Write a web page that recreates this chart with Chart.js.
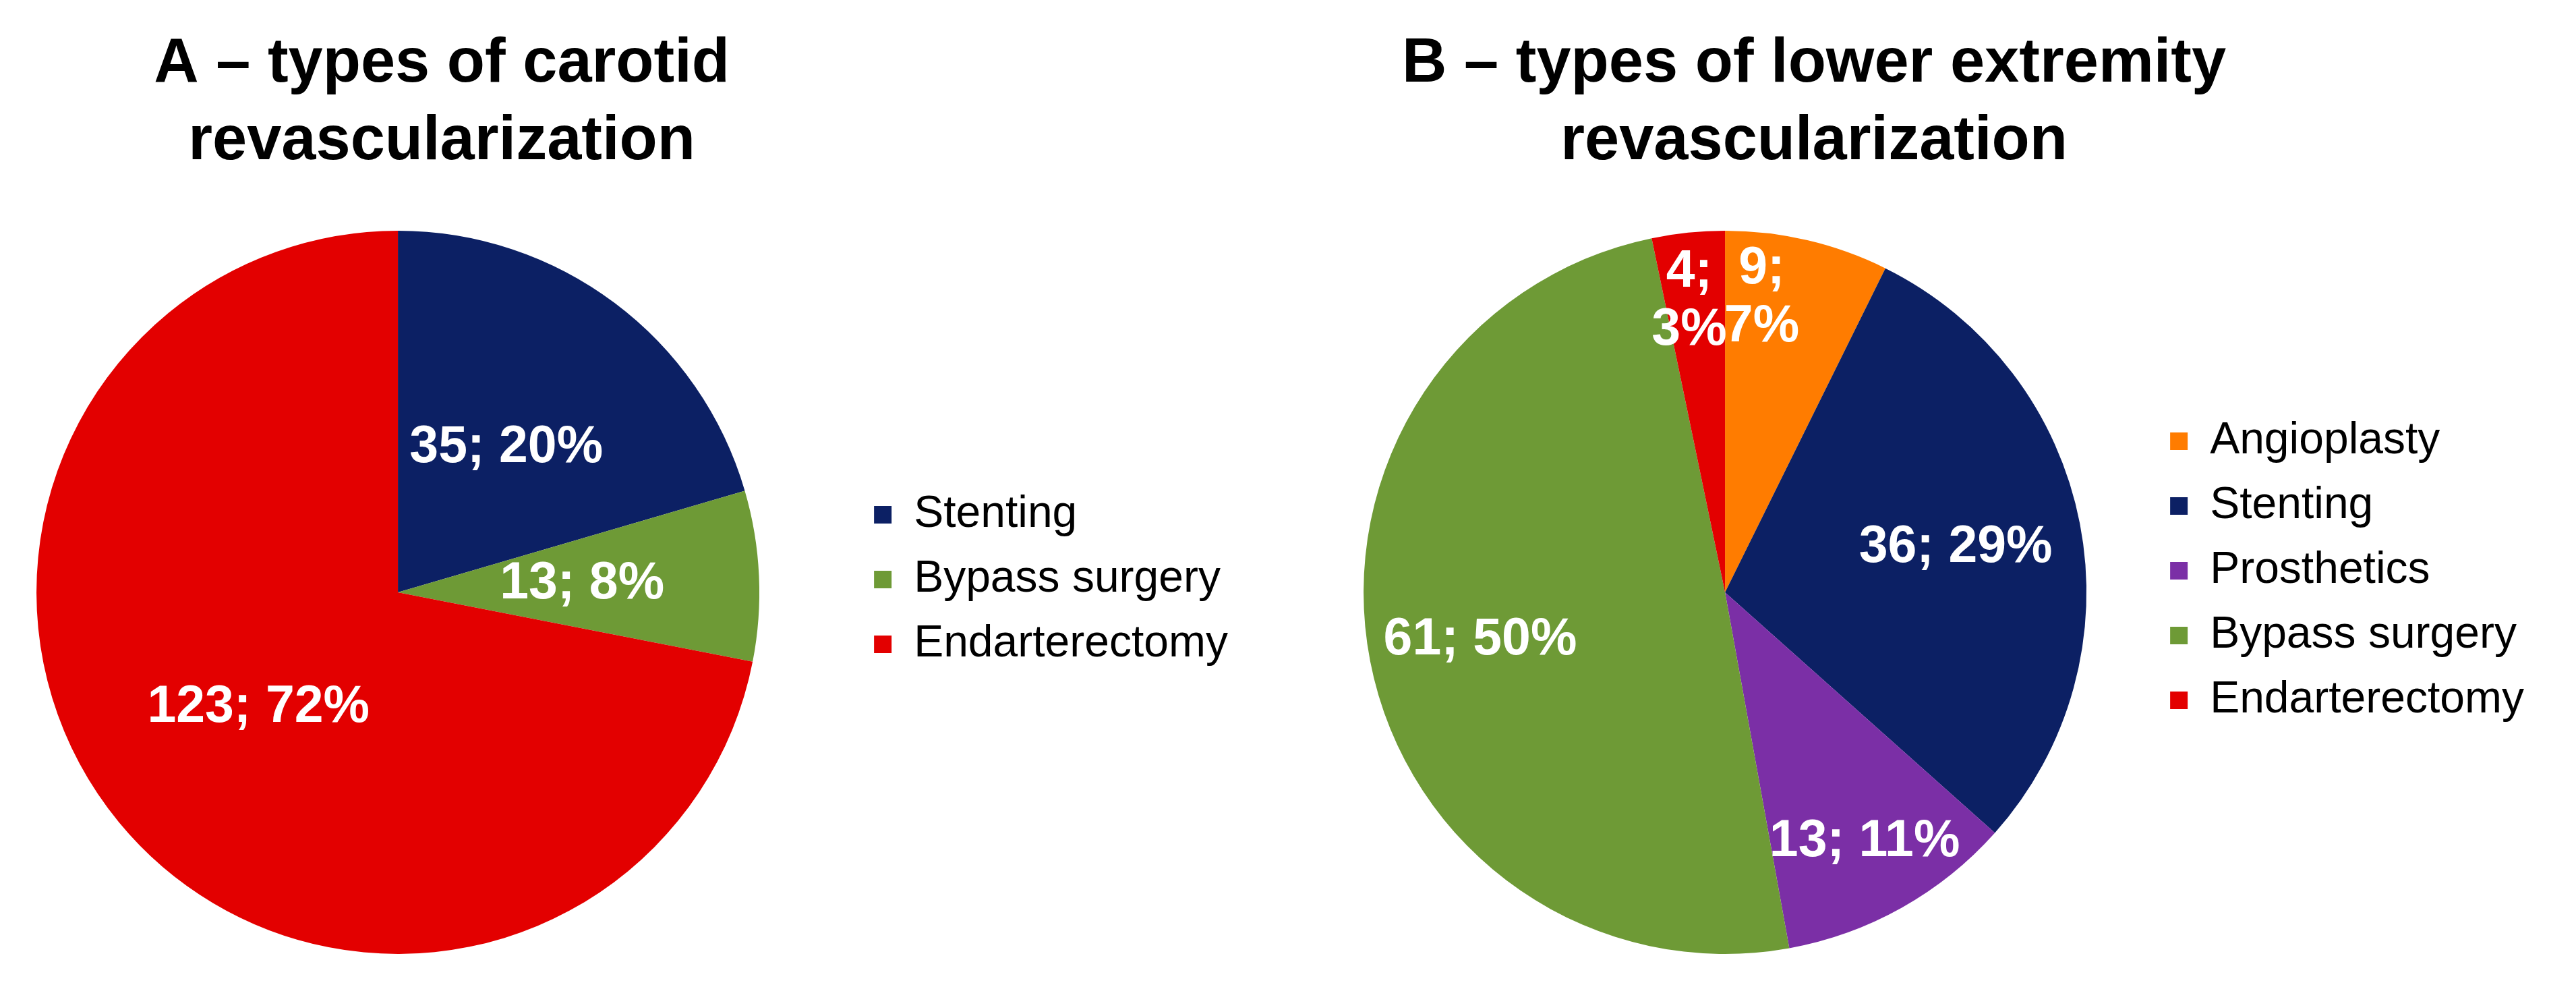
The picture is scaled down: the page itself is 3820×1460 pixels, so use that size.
<!DOCTYPE html>
<html>
<head>
<meta charset="utf-8">
<title>Types of revascularization</title>
<script src="https://cdn.jsdelivr.net/npm/chart.js@4.4.1/dist/chart.umd.min.js"></script>
<style>
  html, body { margin: 0; padding: 0; background: #fff; overflow: hidden; }
  #page { position: relative; width: 3820px; height: 1460px; overflow: hidden; background: #fff; }
  .box { position: absolute; top: 0; height: 1460px; }
  #boxA { left: -86px; width: 2004px; }
  #boxB { left: 1928px; width: 1892px; }
</style>
</head>
<body>
<div id="page">
  <div class="box" id="boxA"><canvas id="carotid"></canvas></div>
  <div class="box" id="boxB"><canvas id="lower"></canvas></div>
</div>
<script>
// data
var carotidTitle = ['A \u2013 types of carotid', 'revascularization'];
var carotidLabels = ['Stenting', 'Bypass surgery', 'Endarterectomy'];
var carotidCounts = [35, 13, 123];

var lowerTitle = ['B \u2013 types of lower extremity', 'revascularization'];
var lowerLabels = ['Angioplasty', 'Stenting', 'Prosthetics', 'Bypass surgery', 'Endarterectomy'];
var lowerCounts = [9, 36, 13, 61, 4];

var navy = '#0C2064';
var green = '#6E9A36';
var red = '#E30000';
var orange = '#FF7C00';
var purple = '#7B2FA6';
var fontFamily = '"Liberation Sans", Arial, Helvetica, sans-serif';

// two line bold heading, centred a bit right of the pie like in the excel sheet
var heading = {
    id: 'heading',
    afterDraw: function (chart, args, opts) {
        var ctx = chart.ctx;
        var area = chart.chartArea;
        var cx = (area.left + area.right) / 2 + opts.shift;
        ctx.save();
        ctx.font = 'bold ' + opts.size + 'px ' + fontFamily;
        ctx.fillStyle = '#000';
        ctx.textAlign = 'center';
        ctx.textBaseline = 'middle';
        opts.text.forEach(function (line, i) {
            ctx.fillText(line, cx, opts.top + i * opts.lineHeight);
        });
        ctx.restore();
    }
};

// "n; p%" written inside each slice, like the excel data labels
var sliceLabels = {
    id: 'sliceLabels',
    afterDatasetsDraw: function (chart, args, opts) {
        var ctx = chart.ctx;
        var meta = chart.getDatasetMeta(0);
        var data = chart.data.datasets[0].data;
        var total = data.reduce(function (a, b) { return a + b; }, 0);
        ctx.save();
        ctx.font = 'bold ' + opts.size + 'px ' + fontFamily;
        ctx.fillStyle = '#ffffff';
        ctx.textAlign = 'center';
        ctx.textBaseline = 'middle';
        meta.data.forEach(function (arc, i) {
            var p = arc.getProps(['x', 'y', 'startAngle', 'endAngle', 'outerRadius'], true);
            var t = opts.along ? opts.along[i] : 0.5;
            var ang = p.startAngle + (p.endAngle - p.startAngle) * t;
            var r = p.outerRadius * opts.radius[i];
            var x = p.x + Math.cos(ang) * r;
            var y = p.y + Math.sin(ang) * r;
            var pct = Math.round(data[i] * 100 / total) + '%';
            if (opts.wrap[i]) {
                ctx.fillText(data[i] + ';', x, y - opts.size * 0.56);
                ctx.fillText(pct, x, y + opts.size * 0.56);
            } else {
                ctx.fillText(data[i] + '; ' + pct, x, y);
            }
        });
        ctx.restore();
    }
};

function makePie(id, title, titleShift, labels, counts, colors, padRight, legendLift, labelOpts) {
    return new Chart(document.getElementById(id), {
        type: 'pie',
        data: {
            labels: labels,
            datasets: [{
                data: counts,
                backgroundColor: colors,
                borderWidth: 0
            }]
        },
        plugins: [sliceLabels, heading],
        options: {
            responsive: true,
            maintainAspectRatio: false,
            animation: false,
            devicePixelRatio: 1,
            layout: { padding: { left: 0, top: 342, right: padRight, bottom: 46 } },
            plugins: {
                title: { display: false },
                heading: { text: title, shift: titleShift, size: 92, top: 96, lineHeight: 115 },
                legend: {
                    position: 'right',
                    fullSize: false,
                    // empty legend title with negative padding, only used to lift the items a little
                    title: { display: true, text: '', font: { size: 1, lineHeight: 1 }, padding: { top: -legendLift - 1, bottom: 0 } },
                    labels: {
                        boxWidth: 26,
                        boxHeight: 26,
                        padding: 30,
                        color: '#000',
                        font: { family: fontFamily, size: 66 }
                    }
                },
                tooltip: { enabled: false },
                sliceLabels: labelOpts
            }
        }
    });
}

makePie('carotid', carotidTitle, 65, carotidLabels, carotidCounts,
    [navy, green, red], 87, 38,
    { size: 77, radius: [0.5, 0.51, 0.5], wrap: [false, false, false] });

makePie('lower', lowerTitle, 132, lowerLabels, lowerCounts,
    [orange, navy, purple, green, red], 67, 64,
    { size: 77, radius: [0.82, 0.65, 0.79, 0.69, 0.81],
      along: [0.27, 0.5, 0.5, 0.5, 0.4],
      wrap: [true, false, false, false, true] });
</script>
</body>
</html>
